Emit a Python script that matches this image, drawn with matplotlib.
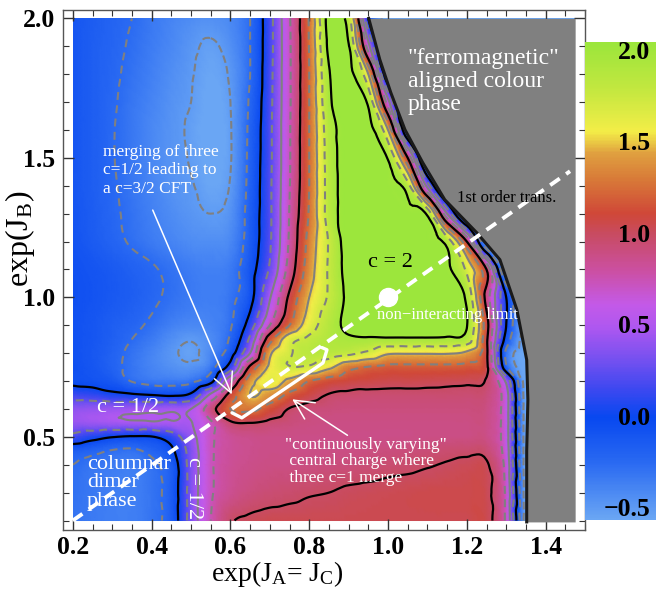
import numpy as np
import matplotlib
matplotlib.use("Agg")
import matplotlib.pyplot as plt
import matplotlib.tri as mtri
from matplotlib.colors import LinearSegmentedColormap
from matplotlib.ticker import MultipleLocator
from matplotlib.patches import Rectangle

plt.rcParams["font.family"] = ["Liberation Serif", "DejaVu Serif"]
plt.rcParams["mathtext.fontset"] = "custom"
plt.rcParams["mathtext.rm"] = "Liberation Serif"
plt.rcParams["mathtext.it"] = "Liberation Serif:italic"
plt.rcParams["mathtext.bf"] = "Liberation Serif:bold"

# ------------------------------------------------------------
# central charge c on a grid of (exp(J_A=J_C), exp(J_B))
# ------------------------------------------------------------
XS = [0.20, 0.25, 0.30, 0.35, 0.40, 0.45, 0.50, 0.55, 0.60, 0.65, 0.70, 0.75, 0.80,
      0.85, 0.90, 0.95, 1.00, 1.05, 1.10, 1.15, 1.20, 1.25, 1.30, 1.35, 1.40, 1.45, 1.50]
YS = [2.0, 1.9, 1.8, 1.7, 1.6, 1.5, 1.4, 1.3, 1.2, 1.1, 1.0, 0.9, 0.85, 0.8, 0.75,
      0.7, 0.65, 0.6, 0.55, 0.5, 0.45, 0.4, 0.3, 0.2]
G = -0.6  # inside the "ferromagnetic" phase (covered in grey)
C_ROWS = [
    [-0.10, -0.15, -0.20, -0.25, -0.32, -0.38, -0.42, -0.44, -0.40, -0.25, 0.17, 0.73, 1.27, 2.08, 1.85, 0.00, G, G, G, G, G, G, G, G, G, G, G],
    [-0.10, -0.16, -0.21, -0.27, -0.34, -0.40, -0.47, -0.52, -0.44, -0.25, 0.17, 0.72, 1.26, 2.05, 2.02, 0.60, G, G, G, G, G, G, G, G, G, G, G],
    [-0.10, -0.16, -0.22, -0.29, -0.36, -0.43, -0.49, -0.55, -0.48, -0.25, 0.18, 0.72, 1.25, 1.98, 2.06, 1.50, -0.30, G, G, G, G, G, G, G, G, G, G],
    [-0.10, -0.16, -0.23, -0.31, -0.38, -0.45, -0.50, -0.57, -0.50, -0.22, 0.19, 0.72, 1.25, 1.95, 2.08, 1.95, 0.60, G, G, G, G, G, G, G, G, G, G],
    [-0.10, -0.16, -0.24, -0.32, -0.40, -0.46, -0.52, -0.58, -0.51, -0.20, 0.20, 0.73, 1.25, 1.88, 2.08, 2.08, 1.50, -0.40, G, G, G, G, G, G, G, G, G],
    [-0.10, -0.16, -0.24, -0.32, -0.40, -0.46, -0.51, -0.57, -0.51, -0.19, 0.20, 0.73, 1.25, 1.86, 2.10, 2.10, 1.98, 1.00, G, G, G, G, G, G, G, G, G],
    [-0.10, -0.16, -0.23, -0.31, -0.38, -0.45, -0.49, -0.55, -0.49, -0.18, 0.21, 0.74, 1.25, 1.85, 2.10, 2.10, 2.05, 1.85, 0.40, G, G, G, G, G, G, G, G],
    [-0.09, -0.15, -0.22, -0.29, -0.36, -0.42, -0.47, -0.50, -0.45, -0.16, 0.21, 0.76, 1.27, 1.85, 2.10, 2.12, 2.10, 2.05, 1.95, 0.50, G, G, G, G, G, G, G],
    [-0.08, -0.14, -0.20, -0.27, -0.33, -0.38, -0.42, -0.43, -0.40, -0.15, 0.22, 0.78, 1.33, 1.77, 2.10, 2.12, 2.12, 2.10, 2.06, 1.90, 1.00, G, G, G, G, G, G],
    [-0.06, -0.09, -0.13, -0.18, -0.23, -0.29, -0.34, -0.36, -0.33, -0.10, 0.28, 0.85, 1.38, 1.78, 2.08, 2.12, 2.12, 2.12, 2.10, 2.04, 1.70, 1.00, G, G, G, G, G],
    [-0.05, -0.08, -0.12, -0.16, -0.22, -0.28, -0.33, -0.35, -0.30, -0.08, 0.48, 1.05, 1.50, 1.78, 2.05, 2.12, 2.12, 2.12, 2.10, 2.06, 1.95, 0.90, 0.00, G, G, G, G],
    [-0.06, -0.10, -0.16, -0.21, -0.28, -0.36, -0.40, -0.38, -0.27, 0.12, 0.75, 1.25, 1.63, 1.88, 2.06, 2.10, 2.10, 2.10, 2.10, 2.07, 2.01, 1.10, 0.00, G, G, G, G],
    [-0.06, -0.10, -0.17, -0.25, -0.33, -0.43, -0.49, -0.42, -0.22, 0.30, 1.15, 1.65, 1.80, 1.90, 1.96, 1.97, 1.97, 1.97, 1.97, 1.96, 1.90, 1.05, -0.10, G, G, G, G],
    [-0.06, -0.11, -0.19, -0.29, -0.38, -0.47, -0.53, -0.40, -0.12, 0.50, 1.45, 1.72, 1.85, 1.86, 1.80, 1.70, 1.53, 1.52, 1.52, 1.52, 1.45, 1.05, -0.30, G, G, G, G],
    [-0.05, -0.10, -0.19, -0.30, -0.38, -0.44, -0.46, -0.33, 0.12, 1.05, 1.55, 1.74, 1.72, 1.55, 1.32, 1.24, 1.20, 1.20, 1.20, 1.20, 1.18, 1.05, -0.20, G, G, G, G],
    [-0.05, -0.07, -0.12, -0.26, -0.32, -0.33, -0.30, -0.08, 0.70, 1.40, 1.62, 1.45, 1.25, 1.15, 1.10, 1.08, 1.06, 1.06, 1.05, 1.04, 1.03, 0.98, 0.45, G, G, G, G],
    [0.15, 0.12, 0.06, 0.03, 0.00, -0.03, 0.05, 0.55, 1.10, 1.50, 1.40, 1.20, 1.08, 0.99, 0.97, 0.96, 0.96, 0.96, 0.96, 0.96, 0.95, 0.93, 0.60, G, G, G, G],
    [0.39, 0.41, 0.43, 0.44, 0.45, 0.46, 0.50, 0.90, 1.25, 1.30, 1.15, 0.99, 0.94, 0.93, 0.92, 0.92, 0.92, 0.92, 0.92, 0.92, 0.92, 0.90, 0.60, G, G, G, G],
    [0.42, 0.44, 0.46, 0.47, 0.48, 0.48, 0.49, 0.72, 0.97, 1.00, 0.96, 0.93, 0.91, 0.90, 0.90, 0.90, 0.90, 0.90, 0.90, 0.90, 0.90, 0.89, 0.60, G, G, G, G],
    [0.18, 0.08, 0.01, -0.02, -0.01, 0.12, 0.42, 0.72, 0.84, 0.88, 0.89, 0.89, 0.89, 0.89, 0.89, 0.89, 0.89, 0.89, 0.90, 0.90, 0.90, 0.89, 0.60, G, G, G, G],
    [-0.15, -0.20, -0.26, -0.28, -0.20, -0.05, 0.35, 0.72, 0.83, 0.87, 0.89, 0.89, 0.89, 0.90, 0.90, 0.91, 0.92, 0.93, 0.94, 0.96, 0.97, 0.95, 0.62, G, G, G, G],
    [-0.25, -0.30, -0.33, -0.34, -0.28, -0.15, 0.35, 0.72, 0.84, 0.88, 0.90, 0.90, 0.91, 0.92, 0.93, 0.94, 0.96, 0.97, 0.99, 1.01, 1.03, 1.02, 0.66, G, G, G, G],
    [-0.28, -0.32, -0.35, -0.35, -0.30, -0.15, 0.35, 0.72, 0.86, 0.92, 0.95, 0.97, 0.99, 1.00, 1.02, 1.03, 1.04, 1.05, 1.06, 1.06, 1.06, 1.04, 0.70, G, G, G, G],
    [-0.30, -0.33, -0.35, -0.35, -0.30, -0.15, 0.35, 0.75, 0.98, 1.03, 1.05, 1.05, 1.05, 1.05, 1.05, 1.05, 1.05, 1.05, 1.05, 1.05, 1.05, 1.05, 0.70, G, G, G, G],
]

# first order line bounding the grey "ferromagnetic" phase
BOUND_Y = [2.0, 1.853, 1.734, 1.601, 1.483, 1.35, 1.232, 1.135, 0.956, 0.776, 0.632, 0.45, 0.195]
BOUND_X = [0.951, 0.979, 1.007, 1.043, 1.088, 1.144, 1.225, 1.284, 1.327, 1.352, 1.355, 1.352, 1.352]

# contour levels
BLACK_LEVELS = [0.0, 1.0, 2.0]
GRAY_LEVELS = [-0.5, 0.5, 1.5]
DASH_LEVELS = [-0.25, 0.25, 0.75, 1.25, 1.75]

# colour scale
VMIN, VMAX = -0.557, 2.055
CMAP_VALUES = [-0.557, -0.25, 0.0, 0.15, 0.3, 0.5, 0.62, 0.8, 1.0, 1.12, 1.3, 1.45, 1.57, 1.8, 2.055]
CMAP_COLORS = ["#6aa6f4", "#2a6af2", "#0848f0", "#3c48f0", "#7050f0", "#b058f0", "#c45ae8",
               "#cc50a4", "#c84c64", "#d04838", "#d87838", "#e0a040", "#f4ee48", "#c4e840", "#9ce63c"]
CBAR_TICKS = [2.0, 1.5, 1.0, 0.5, 0.0, -0.5]

# annotations
DIAG_X = [0.2, 1.462]
DIAG_Y = [0.2, 1.452]
FREE_POINT = (1.0, 1.0)
BRACKET_X = [0.604, 0.629, 0.809, 0.835, 0.845, 0.832]
BRACKET_Y = [0.586, 0.568, 0.740, 0.765, 0.812, 0.820]

XT = [0.2, 0.4, 0.6, 0.8, 1.0, 1.2, 1.4]
YT = [0.5, 1.0, 1.5, 2.0]


def build_field():
    nx_, ny_ = len(XS), len(YS)
    X, Y = np.meshgrid(XS, YS)
    Z = np.array(C_ROWS, dtype=float)
    tris = []
    for j in range(ny_ - 1):
        for i in range(nx_ - 1):
            a = j * nx_ + i
            b, c, d = a + 1, a + nx_, a + nx_ + 1
            tris += [[a, b, d], [a, d, c]]
    tri = mtri.Triangulation(X.ravel(), Y.ravel(), tris)
    interp = mtri.CubicTriInterpolator(tri, Z.ravel(), kind="geom")
    refiner = mtri.UniformTriRefiner(tri)
    return refiner.refine_field(Z.ravel(), triinterpolator=interp, subdiv=3)


def main():
    cmap = LinearSegmentedColormap.from_list(
        "c", [((v - VMIN) / (VMAX - VMIN), col) for v, col in zip(CMAP_VALUES, CMAP_COLORS)])
    tri_f, z_f = build_field()

    fig = plt.figure(figsize=(6.56, 5.91), dpi=100)
    ax = fig.add_axes([63 / 656, 61 / 591, 522 / 656, 520 / 591])
    ax.set_xlim(0.175, 1.50)
    ax.set_ylim(0.166, 2.03)

    clip = Rectangle((0.2, 0.195), 1.275, 1.805, transform=ax.transData)
    pc = ax.tripcolor(tri_f, z_f, shading="gouraud", cmap=cmap, vmin=VMIN, vmax=VMAX, zorder=1)
    pc.set_clip_path(clip)

    cs = ax.tricontour(tri_f, z_f, levels=DASH_LEVELS, colors="#808080", linewidths=1.5, zorder=2)
    cs.set_linestyle((0, (3.8, 2.6)))
    cs.set_clip_path(clip)
    cs = ax.tricontour(tri_f, z_f, levels=GRAY_LEVELS, colors="#808080", linewidths=1.5, zorder=2)
    cs.set_clip_path(clip)
    cs = ax.tricontour(tri_f, z_f, levels=BLACK_LEVELS, colors="black", linewidths=1.6, zorder=2)
    cs.set_clip_path(clip)

    # grey ordered phase and first order line
    ax.fill_betweenx(BOUND_Y, BOUND_X, 1.475, color="#808080", lw=0, zorder=3)
    ax.plot(BOUND_X, BOUND_Y, color="#1a1a1a", lw=2.2, zorder=4)

    # annotations
    ax.plot(DIAG_X, DIAG_Y, color="white", lw=2.8, dashes=(3, 2), zorder=5)
    ax.plot(*FREE_POINT, "o", color="white", ms=13, zorder=6)
    ax.plot(BRACKET_X, BRACKET_Y, color="white", lw=2.4, solid_capstyle="round", zorder=5)

    white = dict(color="white", fontsize=12.5, zorder=7)
    ax.text(0.276, 1.455, "merging of three\nc=1/2 leading to\na c=3/2 CFT",
            ha="left", va="center", linespacing=1.22, **white)
    ax.annotate("", xy=(0.606, 0.643), xytext=(0.40, 1.322),
                arrowprops=dict(arrowstyle="->,head_length=0.7,head_width=0.35",
                                color="white", lw=1.1, mutation_scale=20), zorder=7)
    ax.text(0.738, 0.412, "\"continuously varying\"\n central charge where\n three c=1 merge",
            ha="left", va="center", linespacing=1.05, **white)
    ax.annotate("", xy=(0.751, 0.64), xytext=(0.903, 0.5),
                arrowprops=dict(arrowstyle="->,head_length=0.7,head_width=0.35",
                                color="white", lw=1.1, mutation_scale=20), zorder=7)
    ax.text(1.05, 1.774, "\"ferromagnetic\"\naligned colour\nphase", ha="left", va="center",
            color="white", fontsize=17, linespacing=1.1, zorder=7)
    ax.text(0.972, 0.938, "non\u2212interacting limit", ha="left", va="center",
            color="white", fontsize=12, zorder=7)
    ax.text(0.236, 0.335, "columnar\ndimer\nphase", ha="left", va="center",
            color="white", fontsize=16, linespacing=0.95, zorder=7)
    ax.text(0.34, 0.604, "c = 1/2", ha="center", va="center", color="white", fontsize=16, zorder=7)
    ax.text(0.507, 0.317, "c = 1/2", ha="center", va="center", color="white", fontsize=16,
            rotation=-90, zorder=7)
    ax.text(1.005, 1.124, "c = 2", ha="center", va="center", color="black", fontsize=16, zorder=7)
    ax.text(1.175, 1.357, "1st order trans.", ha="left", va="center", color="black",
            fontsize=12, zorder=7)

    # axes cosmetics
    ax.set_xticks(XT, [f"{v:.1f}" for v in XT], fontsize=18.5, fontweight="bold")
    ax.set_yticks(YT, [f"{v:.1f}" for v in YT], fontsize=18.5, fontweight="bold")
    ax.xaxis.set_minor_locator(MultipleLocator(0.05))
    ax.yaxis.set_minor_locator(MultipleLocator(0.1))
    ax.tick_params(which="both", direction="in", top=True, right=True, color="#333333")
    ax.tick_params(which="major", length=8, width=1, pad=6)
    ax.tick_params(axis="x", which="major", pad=4)
    ax.tick_params(which="minor", length=4, width=0.8)
    for s in ax.spines.values():
        s.set_color("#555555")
        s.set_linewidth(1.0)

    ax.set_xlabel(r"exp(J$_\mathrm{A}$= J$_\mathrm{C}$)", fontsize=20)
    ax.xaxis.set_label_coords(0.41, -0.055)
    ax.set_ylabel(r"exp(J$_\mathrm{B}$)", fontsize=23)
    ax.yaxis.set_label_coords(-0.05, 0.56)

    # colour bar
    cax = fig.add_axes([585 / 656, 71 / 591, 71 / 656, 478 / 591])
    grad = np.linspace(VMIN, VMAX, 400).reshape(-1, 1)
    cax.imshow(grad, aspect="auto", origin="lower", cmap=cmap, vmin=VMIN, vmax=VMAX,
               extent=[0, 1, VMIN, VMAX])
    cax.set_xlim(0, 1)
    cax.set_ylim(VMIN, VMAX)
    cax.set_axis_off()
    for v in CBAR_TICKS:
        cax.text(0.92, v, f"{v:.1f}".replace("-", "\u2212"), ha="right", va="center",
                 fontsize=18.5, fontweight="bold", color="black")

    fig.savefig("out.png", dpi=100)


if __name__ == "__main__":
    main()
